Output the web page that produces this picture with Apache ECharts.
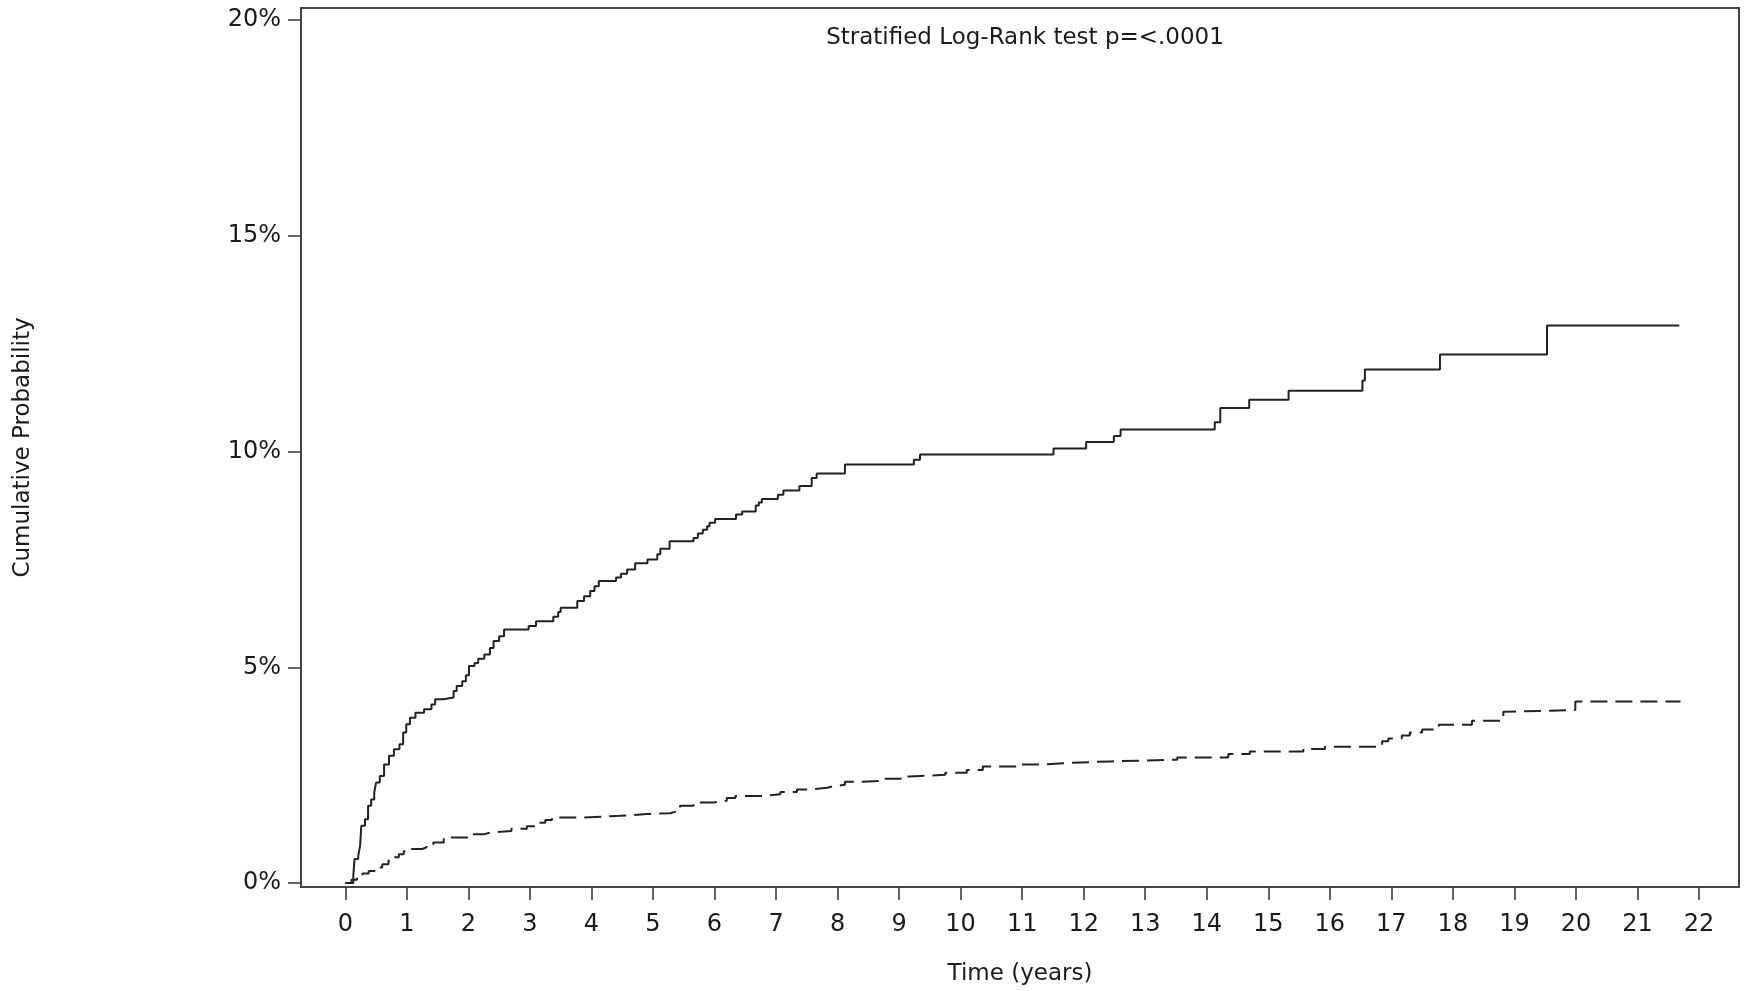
<!DOCTYPE html>
<html>
<head>
<meta charset="utf-8">
<title>Cumulative Probability</title>
<script src="https://cdn.jsdelivr.net/npm/echarts@6/dist/echarts.min.js"></script>
<style>
  html, body { margin: 0; padding: 0; background: #ffffff; }
  #chart { width: 1750px; height: 991px; }
</style>
</head>
<body>
<div id="chart"></div>
<script>
// tick labels
const xTicks = [0, 1, 2, 3, 4, 5, 6, 7, 8, 9, 10, 11, 12, 13, 14, 15, 16, 17, 18, 19, 20, 21, 22];
const yTicks = [0, 5, 10, 15, 20];

// solid curve: time (years) and cumulative probability (%) after each step
const solidTime = [0, 0.13, 0.15, 0.21, 0.24, 0.26, 0.32, 0.37, 0.42, 0.47, 0.50, 0.56, 0.63, 0.71, 0.79, 0.88,
  0.94, 0.99, 1.05, 1.14, 1.28, 1.40, 1.46, 1.60, 1.76, 1.81, 1.90, 1.96, 2.01, 2.10, 2.16, 2.26, 2.35, 2.41,
  2.50, 2.58, 2.98, 3.10, 3.38, 3.46, 3.50, 3.77, 3.88, 3.98, 4.05, 4.12, 4.40, 4.48, 4.58, 4.71, 4.91, 5.07,
  5.12, 5.27, 5.66, 5.73, 5.81, 5.88, 5.92, 6.01, 6.35, 6.45, 6.67, 6.72, 6.77, 7.03, 7.12, 7.38, 7.58, 7.66,
  8.12, 9.24, 9.34, 11.51, 12.04, 12.49, 12.60, 14.13, 14.22, 14.69, 15.33, 16.53, 16.57, 17.79, 19.53, 21.68];
const solidProb = [0, 0.17, 0.56, 0.63, 0.86, 1.33, 1.48, 1.79, 1.94, 2.10, 2.33, 2.48, 2.75, 2.95, 3.10, 3.22,
  3.49, 3.68, 3.83, 3.95, 4.03, 4.14, 4.26, 4.30, 4.45, 4.57, 4.68, 4.82, 5.03, 5.10, 5.20, 5.30, 5.45, 5.61,
  5.72, 5.88, 5.96, 6.07, 6.17, 6.28, 6.38, 6.54, 6.65, 6.77, 6.88, 7.00, 7.08, 7.17, 7.27, 7.41, 7.50, 7.62,
  7.75, 7.92, 8.00, 8.10, 8.19, 8.27, 8.35, 8.44, 8.54, 8.61, 8.75, 8.82, 8.90, 9.00, 9.10, 9.20, 9.39, 9.49,
  9.70, 9.81, 9.93, 10.07, 10.22, 10.36, 10.51, 10.68, 11.01, 11.20, 11.41, 11.65, 11.90, 12.25, 12.92, 12.92];

// dashed curve
const dashedTime = [0, 0.10, 0.19, 0.28, 0.38, 0.50, 0.60, 0.70, 0.80, 0.87, 0.95, 1.03, 1.25, 1.32, 1.43, 1.60,
  2.03, 2.25, 2.36, 2.70, 2.95, 3.11, 3.25, 3.36, 3.87, 4.47, 4.90, 5.28, 5.38, 5.44, 5.66, 5.98, 6.20, 6.34,
  6.80, 7.07, 7.34, 7.56, 7.83, 7.91, 8.12, 8.37, 8.72, 9.07, 9.18, 9.75, 10.10, 10.36, 10.94, 11.35, 11.80,
  12.43, 13.52, 14.35, 14.70, 15.57, 15.92, 16.85, 16.95, 17.17, 17.30, 17.50, 17.77, 18.31, 18.82, 18.86,
  19.99, 21.70];
const dashedProb = [0, 0.08, 0.17, 0.22, 0.28, 0.36, 0.44, 0.52, 0.60, 0.67, 0.74, 0.79, 0.83, 0.88, 0.94, 1.06,
  1.13, 1.17, 1.21, 1.26, 1.32, 1.40, 1.46, 1.52, 1.56, 1.60, 1.62, 1.66, 1.72, 1.79, 1.87, 1.91, 1.97, 2.02,
  2.06, 2.11, 2.17, 2.21, 2.24, 2.28, 2.35, 2.37, 2.42, 2.47, 2.51, 2.56, 2.62, 2.70, 2.75, 2.79, 2.82,
  2.86, 2.91, 2.99, 3.05, 3.11, 3.16, 3.29, 3.35, 3.42, 3.49, 3.56, 3.67, 3.76, 3.97, 4.01,
  4.21, 4.21];

const textColor = '#1a1a1a';
const lineColor = '#222222';
const fontFamily = '"DejaVu Sans", Verdana, sans-serif';

const chart = echarts.init(document.getElementById('chart'), null, { renderer: 'canvas' });

const option = {
  animation: false,
  backgroundColor: '#ffffff',
  title: {
    text: 'Stratified Log-Rank test p=<.0001',
    left: 1020,
    top: 22,
    textAlign: 'center',
    textStyle: {
      color: textColor,
      fontFamily: fontFamily,
      fontSize: 23,
      fontWeight: 'normal',
    },
  },
  grid: {
    left: 301,
    right: 11,
    top: 8,
    bottom: 103,
    show: true,
    borderColor: '#444444',
    borderWidth: 2,
    containLabel: false,
  },
  xAxis: {
    type: 'value',
    min: -0.72,
    max: 22.65,
    name: 'Time (years)',
    nameLocation: 'middle',
    nameGap: 76,
    nameTextStyle: { color: textColor, fontFamily: fontFamily, fontSize: 23 },
    axisLine: { show: true, onZero: false, lineStyle: { color: '#444444', width: 2 } },
    axisTick: {
      show: true,
      inside: false,
      length: 13,
      customValues: xTicks,
      lineStyle: { color: '#333333', width: 1.5 },
    },
    axisLabel: {
      customValues: xTicks,
      margin: 26,
      color: textColor,
      fontFamily: fontFamily,
      fontSize: 24,
    },
    splitLine: { show: false },
  },
  yAxis: {
    type: 'value',
    min: -0.09,
    max: 20.28,
    name: 'Cumulative Probability',
    nameLocation: 'middle',
    nameGap: 266,
    nameTextStyle: { color: textColor, fontFamily: fontFamily, fontSize: 23 },
    axisLine: { show: true, onZero: false, lineStyle: { color: '#444444', width: 2 } },
    axisTick: {
      show: true,
      inside: false,
      length: 13,
      customValues: yTicks,
      lineStyle: { color: '#333333', width: 1.5 },
    },
    axisLabel: {
      customValues: yTicks,
      margin: 20,
      color: textColor,
      fontFamily: fontFamily,
      fontSize: 24,
      formatter: v => v + '%',
    },
    splitLine: { show: false },
  },
  series: [
    {
      name: 'Solid',
      type: 'line',
      step: 'end',
      symbol: 'none',
      data: solidTime.map((t, i) => [t, solidProb[i]]),
      lineStyle: { color: lineColor, width: 2 },
    },
    {
      name: 'Dashed',
      type: 'line',
      step: 'end',
      symbol: 'none',
      data: dashedTime.map((t, i) => [t, dashedProb[i]]),
      lineStyle: { color: lineColor, width: 2, type: [17, 8] },
    },
  ],
};

chart.setOption(option);
</script>
</body>
</html>
